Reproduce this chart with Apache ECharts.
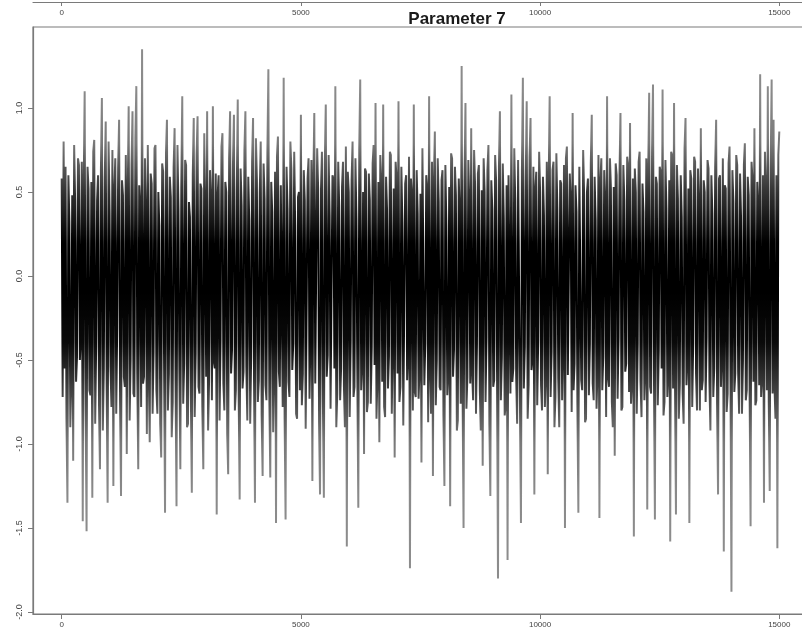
<!DOCTYPE html>
<html>
<head>
<meta charset="utf-8">
<script src="https://cdn.jsdelivr.net/npm/echarts@6/dist/echarts.min.js"></script>
<style>
  html, body { margin: 0; padding: 0; background: #fff; }
  #chart { width: 802px; height: 635px; }
</style>
</head>
<body>
<div id="chart"></div>
<script>
// MCMC trace of one parameter, thinned to every 20th iteration.
const chartTitle = 'Parameter 7';
const thinStep = 20;
const xTicks = [0, 5000, 10000, 15000];
const yTicks = [-2, -1.5, -1, -0.5, 0, 0.5, 1];

const trace = [
  0.58, -0.72, 0.80, -0.55, 0.65, -0.85, -1.35, 0.60, 0.32, -0.90,
  -0.62, 0.48, -1.10, 0.78, 0.45, -0.63, -0.48, 0.70, 0.66, -0.50,
  -0.35, 0.68, -1.46, 0.52, 1.10, -0.80, -1.52, 0.65, 0.52, -0.68,
  -0.71, 0.56, -1.32, 0.74, 0.81, -0.88, -0.42, 0.45, 0.60, -0.77,
  -1.15, 0.63, 1.06, -0.92, -0.55, 0.58, 0.92, -0.66, -1.35, 0.80,
  0.38, -0.54, -0.78, 0.75, -1.25, 0.50, 0.70, -0.82, -0.30, 0.64,
  0.93, -0.74, -1.31, 0.57, 0.48, -0.60, -0.66, 0.72, -1.06, 0.46,
  1.01, -0.86, -0.50, 0.66, 0.98, -0.70, -0.72, 0.82, 1.13, -0.58,
  -1.15, 0.54, 0.41, -0.78, 1.35, -0.64, -0.60, 0.70, 0.36, -0.94,
  0.78, -0.56, -0.99, 0.61, 0.55, -0.82, -0.45, 0.76, 0.78, -0.68,
  -0.82, 0.50, 0.30, -0.88, -1.08, 0.67, 0.62, -0.52, -1.41, 0.73,
  0.93, -0.80, -0.58, 0.59, 0.47, -0.96, -0.75, 0.65, 0.88, -0.62,
  -1.37, 0.78, 0.40, -0.57, -1.15, 0.52, 1.07, -0.76, -0.52, 0.69,
  0.66, -0.90, -0.88, 0.44, 0.35, -0.71, -1.29, 0.60, 0.94, -0.84,
  -0.46, 0.72, 0.95, -0.66, -0.70, 0.55, 0.52, -0.78, -1.15, 0.85,
  0.28, -0.60, 0.98, -0.92, -0.63, 0.63, 0.44, -0.74, 1.01, -0.51,
  -0.55, 0.61, -1.42, 0.48, 0.60, -0.86, -0.38, 0.77, 0.85, -0.64,
  -0.80, 0.56, 0.50, -0.94, -1.18, 0.70, 0.98, -0.58, -0.44, 0.66,
  0.96, -0.80, -0.68, 0.51, 1.05, -0.72, -1.33, 0.64, 0.42, -0.67,
  -0.57, 0.75, 0.98, -0.54, -0.86, 0.59, 0.33, -0.88, -0.48, 0.68,
  0.94, -0.61, -1.35, 0.82, 0.57, -0.75, -0.62, 0.49, 0.80, -0.83,
  -1.19, 0.67, 0.46, -0.65, -0.74, 0.73, 1.23, -0.70, -1.20, 0.56,
  0.38, -0.93, -0.50, 0.62, -1.47, 0.71, 0.83, -0.57, -0.66, 0.54,
  0.55, -0.78, 1.18, -0.85, -1.45, 0.65, 0.40, -0.63, -0.72, 0.80,
  0.64, -0.56, -0.40, 0.74, 0.30, -0.82, -0.85, 0.47, 0.50, -0.68,
  0.96, -0.77, -0.58, 0.63, 0.45, -0.91, -0.92, 0.58, 0.70, -0.73,
  -0.35, 0.69, -1.22, 0.55, 0.97, -0.64, -0.64, 0.76, 0.52, -0.87,
  -1.30, 0.51, 0.74, -0.75, -1.32, 0.66, 1.02, -0.60, -0.47, 0.72,
  0.36, -0.79, -0.80, 0.60, 0.58, -0.55, 1.13, -0.90, -0.70, 0.68,
  0.42, -0.74, -0.55, 0.53, 0.68, -0.66, -0.90, 0.77, -1.61, 0.62,
  0.50, -0.84, -0.38, 0.57, 0.80, -0.72, -0.66, 0.70, 0.34, -0.59,
  -1.38, 0.75, 1.17, -0.68, -0.52, 0.50, -1.06, 0.64, 0.62, -0.81,
  -0.75, 0.61, 0.45, -0.76, -0.42, 0.67, 0.78, -0.53, 1.03, -0.85,
  -0.60, 0.56, -0.99, 0.72, 0.55, -0.63, 1.02, -0.78, -0.84, 0.59,
  0.40, -0.67, -0.48, 0.74, 0.72, -0.82, -0.34, 0.52, -1.08, 0.68,
  0.58, -0.58, 1.04, -0.75, -0.66, 0.65, 0.32, -0.89, -0.90, 0.55,
  0.60, -0.62, -0.45, 0.71, -1.74, 0.58, 0.48, -0.80, 1.02, -0.69,
  -0.72, 0.63, 0.37, -0.73, -0.55, 0.49, -1.11, 0.76, 0.75, -0.65,
  -0.40, 0.60, 0.52, -0.87, 1.07, -0.56, -0.82, 0.68, -1.19, 0.54,
  0.86, -0.77, -0.50, 0.70, 0.44, -0.66, -0.68, 0.57, 0.63, -0.83,
  -1.25, 0.66, 0.30, -0.71, -0.58, 0.53, -1.37, 0.73, 0.70, -0.60,
  -0.44, 0.65, 0.48, -0.92, -0.86, 0.58, 0.35, -0.76, 1.25, -0.69,
  -1.50, 0.56, 1.03, -0.79, -0.60, 0.69, 0.42, -0.64, 0.88, -0.57,
  -0.74, 0.75, 0.55, -0.82, -0.40, 0.61, 0.66, -0.68, -0.92, 0.51,
  -1.13, 0.70, 0.50, -0.75, -0.36, 0.63, 0.78, -0.88, -1.31, 0.57,
  0.40, -0.66, -0.62, 0.72, 0.57, -0.58, -1.80, 0.65, 0.98, -0.74,
  -0.48, 0.67, 0.34, -0.83, -0.77, 0.54, -1.69, 0.60, 0.60, -0.70,
  1.08, -0.63, -0.55, 0.76, 0.45, -0.59, -0.88, 0.69, 0.70, -0.80,
  -1.47, 0.62, 1.18, -0.67, -0.42, 0.58, 1.04, -0.85, -0.65, 0.71,
  0.94, -0.56, -0.50, 0.65, -1.30, 0.52, 0.62, -0.77, -0.38, 0.74,
  0.50, -0.65, -0.80, 0.59, 0.36, -0.78, -0.58, 0.68, -1.18, 0.55,
  1.07, -0.72, -0.45, 0.63, 0.68, -0.90, -0.72, 0.73, 0.40, -0.61,
  -0.90, 0.57, 0.55, -0.74, -0.34, 0.66, -1.50, 0.70, 0.77, -0.59,
  -0.60, 0.61, 0.44, -0.81, 0.97, -0.68, -0.52, 0.54, 0.38, -0.76,
  -1.41, 0.65, 0.64, -0.62, -0.68, 0.75, 0.48, -0.87, -0.85, 0.50,
  0.58, -0.71, -0.40, 0.67, 0.96, -0.64, -0.74, 0.59, 0.33, -0.79,
  -0.55, 0.72, -1.44, 0.56, 0.70, -0.68, -0.48, 0.63, 0.42, -0.84,
  1.07, -0.60, -0.66, 0.70, 0.52, -0.75, -0.90, 0.53, -1.07, 0.67,
  0.60, -0.73, -0.36, 0.60, 0.97, -0.80, -0.78, 0.66, 0.45, -0.57,
  -0.52, 0.71, 0.66, -0.69, 0.91, -0.76, -0.62, 0.58, -1.55, 0.64,
  0.50, -0.82, -0.40, 0.68, 0.74, -0.63, -0.84, 0.55, 0.38, -0.74,
  -0.56, 0.70, -1.39, 0.61, 1.09, -0.66, -0.70, 0.73, 1.14, -0.59,
  -1.45, 0.59, 0.55, -0.77, -0.44, 0.65, 0.62, -0.55, 1.11, -0.83,
  -0.75, 0.69, 0.40, -0.72, -0.58, 0.57, -1.58, 0.74, 0.72, -0.67,
  1.03, -0.61, -1.42, 0.66, 0.46, -0.85, -0.64, 0.60, 0.35, -0.70,
  -0.88, 0.76, 0.94, -0.65, -0.48, 0.52, -1.47, 0.63, 0.58, -0.78,
  -0.40, 0.71, 0.68, -0.58, -0.80, 0.64, 0.42, -0.80, 0.88, -0.68,
  -0.62, 0.57, 0.50, -0.75, -0.36, 0.69, 0.64, -0.63, -0.92, 0.60,
  0.37, -0.72, -0.55, 0.65, 0.93, -0.76, -1.30, 0.58, 0.60, -0.66,
  -0.45, 0.70, -1.64, 0.54, 0.52, -0.81, -0.70, 0.67, 0.77, -0.60,
  -1.88, 0.63, 0.44, -0.69, -0.58, 0.72, 0.66, -0.57, -0.82, 0.61,
  0.35, -0.82, -0.50, 0.66, 0.79, -0.74, -0.68, 0.59, 0.48, -0.70,
  -1.49, 0.68, 0.57, -0.63, 0.88, -0.77, -0.74, 0.56, 0.40, -0.65,
  1.20, -0.72, -0.60, 0.60, -1.35, 0.74, 0.50, -0.68, 1.13, -0.75,
  -1.28, 0.64, 1.17, -0.70, 0.93, -0.66, -0.85, 0.60, -1.62, 0.72,
  0.86
];

const traceData = trace.map((v, i) => [i * thinStep, v]);

const chart = echarts.init(document.getElementById('chart'), null, { renderer: 'canvas' });
const axisGrey = '#7a7a7a';
const labelFont = 'Liberation Sans';
const plainNumber = v => String(v);

chart.setOption({
  animation: false,
  backgroundColor: '#fff',
  grid: {
    left: 33, top: 27, bottom: 21, width: 775,
    outerBoundsMode: 'none',
    show: true, borderColor: axisGrey, borderWidth: 1.2,
    containLabel: false
  },
  graphic: [{
    type: 'text',
    x: 457, y: 28,
    z: 10,
    style: {
      text: chartTitle,
      textAlign: 'center',
      textVerticalAlign: 'bottom',
      font: 'bold 17px "Liberation Sans"',
      fill: '#1a1a1a'
    }
  }],
  visualMap: {
    show: false,
    type: 'continuous',
    seriesIndex: 0,
    dimension: 1,
    min: -1.9,
    max: 1.4,
    inRange: {
      color: ['#8c8c8c', '#8c8c8c', '#8a8a8a', '#7a7a7a', '#444444', '#0a0a0a',
              '#000000', '#000000', '#333333', '#7a7a7a', '#8a8a8a', '#8c8c8c']
    }
  },
  xAxis: [{
    type: 'value',
    min: -600, max: 15600,
    splitLine: { show: false },
    axisLine: { show: true, onZero: false, lineStyle: { color: axisGrey, width: 1.2 } },
    axisTick: { show: true, length: 5, customValues: xTicks, lineStyle: { color: axisGrey } },
    axisLabel: {
      customValues: xTicks, margin: 7, formatter: plainNumber,
      fontSize: 8, fontFamily: labelFont, color: '#444'
    }
  }, {
    // axis of the panel above, showing only its bottom edge
    type: 'value',
    position: 'top',
    offset: 25,
    min: -600, max: 15600,
    splitLine: { show: false },
    axisLine: { show: true, onZero: false, lineStyle: { color: axisGrey, width: 1.2 } },
    axisTick: { show: true, inside: true, length: 4, customValues: xTicks, lineStyle: { color: axisGrey } },
    axisLabel: {
      inside: true, customValues: xTicks, margin: 7, formatter: plainNumber,
      fontSize: 8, fontFamily: labelFont, color: '#444'
    }
  }],
  yAxis: {
    type: 'value',
    min: -2.012, max: 1.482,
    splitLine: { show: false },
    axisLine: { show: true, onZero: false, lineStyle: { color: axisGrey, width: 1.2 } },
    axisTick: { show: true, length: 5, customValues: yTicks, lineStyle: { color: axisGrey } },
    axisLabel: {
      customValues: yTicks, rotate: 90, margin: 9,
      fontSize: 9, fontFamily: labelFont, color: '#444',
      formatter: v => v.toFixed(1)
    }
  },
  series: [{
    type: 'line',
    xAxisIndex: 0,
    data: traceData,
    showSymbol: false,
    symbol: 'none',
    lineStyle: { width: 2, join: 'bevel' },
    silent: true
  }]
});
</script>
</body>
</html>
